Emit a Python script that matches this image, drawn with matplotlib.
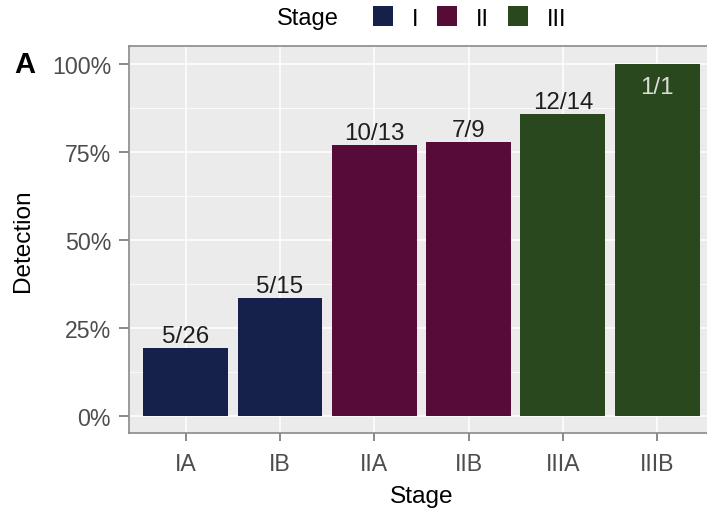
import matplotlib
matplotlib.use("Agg")
import matplotlib.pyplot as plt
from matplotlib.patches import Patch
import numpy as np

plt.rcParams['font.family'] = ['Liberation Sans', 'DejaVu Sans']

categories = ["IA", "IB", "IIA", "IIB", "IIIA", "IIIB"]
detected = [5, 5, 10, 7, 12, 1]
totals = [26, 15, 13, 9, 14, 1]
stage_group = ["I", "I", "II", "II", "III", "III"]
groups = ["I", "II", "III"]
group_colors = {"I": "#15204b", "II": "#570b39", "III": "#2a481d"}

values = [d / t for d, t in zip(detected, totals)]
labels = [f"{d}/{t}" for d, t in zip(detected, totals)]

W, H = 707, 510
fig = plt.figure(figsize=(W / 100, H / 100), dpi=100)
left, right, top, bottom = 129.1, 713.8, 47.1, 434.3
ax = fig.add_axes([left / W, 1 - bottom / H, (right - left) / W, (bottom - top) / H])
ax.set_facecolor("#EBEBEB")

x = np.arange(len(categories))
ax.bar(x, values, width=0.9, color=[group_colors[g] for g in stage_group], zorder=3)

ax.set_xlim(-0.6, len(categories) - 1 + 0.6)
ax.set_ylim(-0.05, 1.05)
ax.set_yticks([0, 0.25, 0.5, 0.75, 1.0])
ax.set_yticklabels(["0%", "25%", "50%", "75%", "100%"])
ax.set_yticks([0.125, 0.375, 0.625, 0.875], minor=True)
ax.set_xticks(x)
ax.set_xticklabels(categories)

ax.grid(which="major", color="white", linewidth=1.1, zorder=0)
ax.grid(which="minor", axis="y", color="white", linewidth=0.55, zorder=0)
ax.set_axisbelow(True)

for s in ["left", "bottom", "top"]:
    ax.spines[s].set_color("#8a8a8a")
    ax.spines[s].set_linewidth(1.2)
ax.spines["right"].set_visible(False)

ax.tick_params(axis="y", which="major", labelsize=16.7, colors="#6a6a6a",
               labelcolor="#4d4d4d", length=7.5, width=1.1, pad=5.5)
ax.tick_params(axis="x", which="major", labelsize=16.7, colors="#6a6a6a",
               labelcolor="#4d4d4d", length=6, width=1.1, pad=7.5)
ax.tick_params(axis="both", which="minor", length=0)

for xi, v, lab in zip(x, values, labels):
    if v >= 0.99:
        ax.annotate(lab, (xi, v), xytext=(0, -9), textcoords="offset points",
                    ha="center", va="top", fontsize=17.4, color="#dcdcdc", zorder=4)
    else:
        ax.annotate(lab, (xi, v), xytext=(0, 1), textcoords="offset points",
                    ha="center", va="bottom", fontsize=17.4, color="#1e1e1e", zorder=4)

ax.set_ylabel("Detection", fontsize=17.6, labelpad=13)
ax.set_xlabel("Stage", fontsize=17.6, labelpad=7)

fig.text(35 / W, 1 - 65 / H, "A", fontsize=21, fontweight="bold", ha="right", va="center")

fig.text(277 / W, 1 - 25 / H, "Stage", fontsize=17, ha="left", va="baseline")
handles = [Patch(facecolor=group_colors[g], edgecolor="none") for g in groups]
leg = fig.legend(handles, groups, loc="center left", bbox_to_anchor=(373 / W, 1 - 19 / H),
                 ncol=3, frameon=False, fontsize=17, handlelength=0.85, handleheight=0.93,
                 handletextpad=0.8, columnspacing=0.8, borderaxespad=0, borderpad=0)

fig.savefig("out.png", dpi=100)
